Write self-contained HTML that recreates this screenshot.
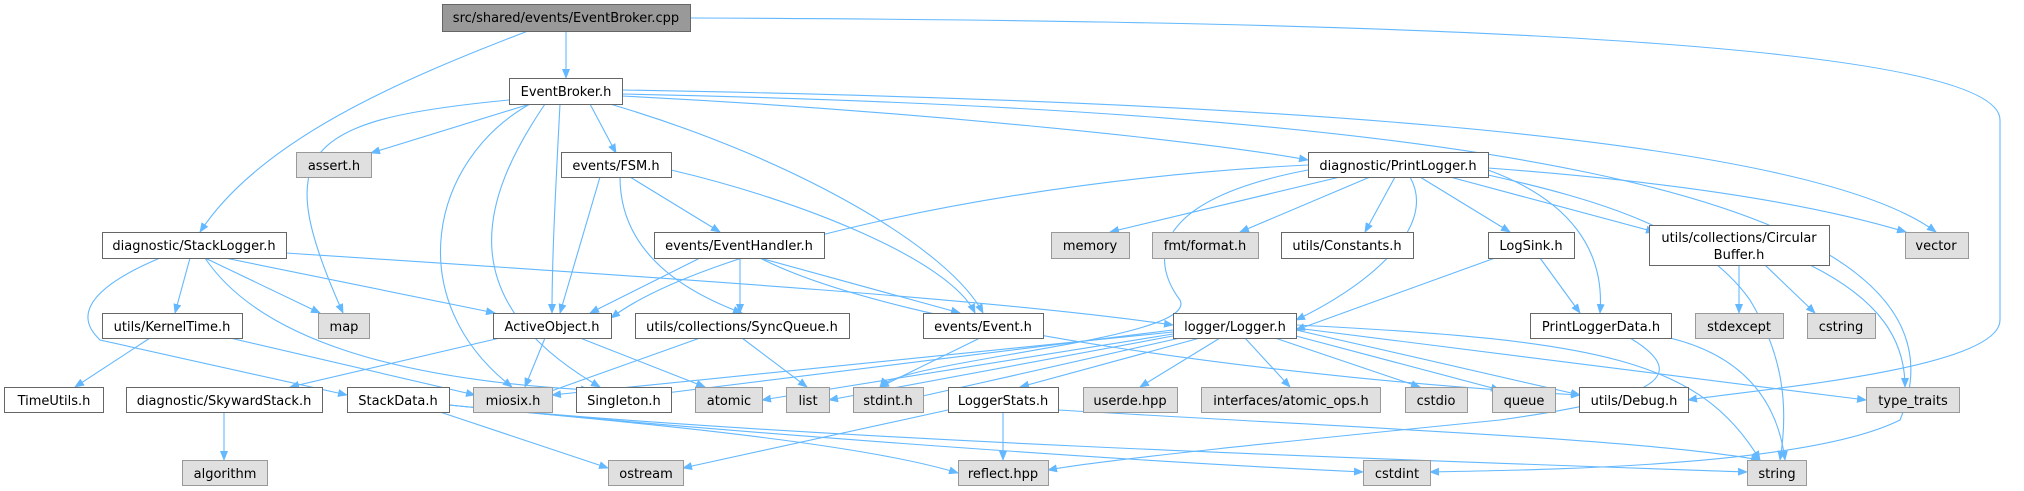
<!DOCTYPE html>
<html><head><meta charset="utf-8"><style>
body{margin:0;background:#fff;}
svg{display:block}
text{font-family:"DejaVu Sans","Liberation Sans",sans-serif;font-size:13px;fill:#000}
</style></head><body>
<svg width="2024" height="491" viewBox="0 0 2024 491" xmlns="http://www.w3.org/2000/svg">
<defs><marker id="a" markerWidth="10" markerHeight="8" refX="9" refY="4" orient="auto" markerUnits="userSpaceOnUse"><path d="M0,0 L10,4 L0,8 z" fill="#63b8ff"/></marker></defs>
<g fill="none" stroke="#63b8ff" stroke-width="1.1" marker-end="url(#a)">
<path d="M566,31 L566,78"/>
<path d="M528,31 C400,80 260,140 200,232"/>
<path d="M690,18 C1200,20 2000,30 2000,120 L2000,320 C2000,370 1750,390 1688,400"/>
<path d="M530,104 L371,153"/>
<path d="M590,104 L616,153"/>
<path d="M622,96 C900,110 1200,140 1308,160"/>
<path d="M560,104 C555,200 552,260 552,313"/>
<path d="M610,104 C800,160 950,250 983,313"/>
<path d="M509,100 C300,120 270,150 343,313"/>
<path d="M530,104 C430,160 400,300 512,387"/>
<path d="M545,104 C480,200 450,300 600,387"/>
<path d="M622,90 C1200,100 1800,130 1936,232"/>
<path d="M622,94 C1400,110 2000,180 1900,420 C1800,470 1500,470 1430,472"/>
<path d="M600,177 L560,313"/>
<path d="M630,177 L720,232"/>
<path d="M620,177 C620,250 680,290 742,313"/>
<path d="M671,170 C800,200 950,260 975,313"/>
<path d="M700,258 L590,313"/>
<path d="M740,258 L740,313"/>
<path d="M760,258 L960,313"/>
<path d="M760,258 C900,330 1300,380 1580,395"/>
<path d="M190,258 L175,313"/>
<path d="M205,258 L320,313"/>
<path d="M225,258 L495,313"/>
<path d="M286,253 C700,280 1000,300 1173,325"/>
<path d="M160,258 C60,300 90,330 100,340 L347,395"/>
<path d="M205,258 C260,340 400,380 590,390"/>
<path d="M150,338 L75,387"/>
<path d="M230,338 L475,395"/>
<path d="M500,338 L290,387"/>
<path d="M545,338 L525,387"/>
<path d="M580,338 L705,387"/>
<path d="M224,412 L224,460"/>
<path d="M440,412 L608,468"/>
<path d="M449,405 C600,420 850,440 958,473"/>
<path d="M449,405 C700,430 1100,460 1363,472"/>
<path d="M449,405 C800,440 1400,460 1747,472"/>
<path d="M700,338 L540,395"/>
<path d="M742,338 L807,387"/>
<path d="M980,338 L880,387"/>
<path d="M1340,177 L1110,232"/>
<path d="M1370,177 L1240,232"/>
<path d="M1395,177 L1365,232"/>
<path d="M1420,177 L1510,232"/>
<path d="M1450,177 L1655,232"/>
<path d="M1488,168 C1650,180 1800,200 1906,232"/>
<path d="M1488,170 C1570,200 1605,250 1600,313"/>
<path d="M1410,177 C1440,230 1360,290 1296,320"/>
<path d="M1308,165 C1000,180 700,250 611,318"/>
<path d="M1488,175 C1600,200 1700,230 1750,300 C1780,350 1790,400 1780,460"/>
<path d="M1308,170 C1150,200 1150,260 1180,300 C1200,340 900,360 880,387"/>
<path d="M1495,258 L1296,330"/>
<path d="M1540,258 L1580,313"/>
<path d="M1739,265 L1739,313"/>
<path d="M1765,265 L1815,313"/>
<path d="M1810,265 C1880,300 1905,340 1905,387"/>
<path d="M1173,332 L552,395"/>
<path d="M1173,330 L650,395"/>
<path d="M1173,334 L762,400"/>
<path d="M1173,336 L829,400"/>
<path d="M1180,338 L905,400"/>
<path d="M1200,338 L1020,387"/>
<path d="M1220,338 L1140,387"/>
<path d="M1245,338 L1290,387"/>
<path d="M1275,338 L1420,387"/>
<path d="M1296,336 L1500,390"/>
<path d="M1296,330 L1580,395"/>
<path d="M1296,328 L1866,400"/>
<path d="M1296,325 C1600,340 1700,360 1760,460"/>
<path d="M948,410 L683,468"/>
<path d="M1003,412 L1003,460"/>
<path d="M1058,410 C1400,430 1650,440 1760,460"/>
<path d="M1630,338 C1700,380 1640,400 1500,420 C1300,440 1100,460 1048,470"/>
<path d="M1670,338 C1760,360 1780,420 1785,460"/>
</g>
<g stroke-width="1">
<rect x="442.5" y="4.5" width="248" height="27" fill="#999" stroke="#666"/>
<text x="566" y="22" text-anchor="middle">src/shared/events/EventBroker.cpp</text>
</g>
<g fill="#fff" stroke="#666" stroke-width="1">
<rect x="509.5" y="78.5" width="113" height="26"/>
<rect x="561.5" y="152.5" width="110" height="25"/>
<rect x="1308.5" y="152.5" width="180" height="25"/>
<rect x="102.5" y="232.5" width="184" height="26"/>
<rect x="654.5" y="232.5" width="170" height="26"/>
<rect x="1281.5" y="232.5" width="132" height="26"/>
<rect x="1488.5" y="232.5" width="86" height="26"/>
<rect x="1649.5" y="225.5" width="180" height="40"/>
<rect x="102.5" y="313.5" width="140" height="25"/>
<rect x="493.5" y="313.5" width="118" height="25"/>
<rect x="635.5" y="313.5" width="214" height="25"/>
<rect x="923.5" y="313.5" width="120" height="25"/>
<rect x="1173.5" y="313.5" width="123" height="25"/>
<rect x="1530.5" y="313.5" width="141" height="25"/>
<rect x="4.5" y="387.5" width="99" height="25"/>
<rect x="126.5" y="387.5" width="196" height="25"/>
<rect x="347.5" y="387.5" width="102" height="25"/>
<rect x="576.5" y="387.5" width="95" height="25"/>
<rect x="948.5" y="387.5" width="110" height="25"/>
<rect x="1579.5" y="387.5" width="109" height="25"/>
</g>
<g fill="#e0e0e0" stroke="#999" stroke-width="1">
<rect x="296.5" y="152.5" width="75" height="25"/>
<rect x="1051.5" y="232.5" width="78" height="26"/>
<rect x="1152.5" y="232.5" width="106" height="26"/>
<rect x="1905.5" y="232.5" width="63" height="26"/>
<rect x="318.5" y="313.5" width="51" height="25"/>
<rect x="1695.5" y="313.5" width="88" height="25"/>
<rect x="1807.5" y="313.5" width="68" height="25"/>
<rect x="473.5" y="387.5" width="79" height="25"/>
<rect x="695.5" y="387.5" width="67" height="25"/>
<rect x="786.5" y="387.5" width="43" height="25"/>
<rect x="853.5" y="387.5" width="70" height="25"/>
<rect x="1083.5" y="387.5" width="94" height="25"/>
<rect x="1201.5" y="387.5" width="179" height="25"/>
<rect x="1405.5" y="387.5" width="62" height="25"/>
<rect x="1492.5" y="387.5" width="63" height="25"/>
<rect x="1866.5" y="387.5" width="93" height="25"/>
<rect x="182.5" y="460.5" width="85" height="25"/>
<rect x="608.5" y="460.5" width="75" height="25"/>
<rect x="958.5" y="460.5" width="90" height="25"/>
<rect x="1363.5" y="460.5" width="67" height="25"/>
<rect x="1747.5" y="460.5" width="59" height="25"/>
</g>
<g text-anchor="middle">
<text x="566" y="96">EventBroker.h</text>
<text x="334" y="170">assert.h</text>
<text x="616" y="170">events/FSM.h</text>
<text x="1398" y="170">diagnostic/PrintLogger.h</text>
<text x="194" y="250">diagnostic/StackLogger.h</text>
<text x="739" y="250">events/EventHandler.h</text>
<text x="1090" y="250">memory</text>
<text x="1205" y="250">fmt/format.h</text>
<text x="1347" y="250">utils/Constants.h</text>
<text x="1531" y="250">LogSink.h</text>
<text x="1739" y="242">utils/collections/Circular</text>
<text x="1739" y="259">Buffer.h</text>
<text x="1936" y="250">vector</text>
<text x="172" y="331">utils/KernelTime.h</text>
<text x="344" y="331">map</text>
<text x="552" y="331">ActiveObject.h</text>
<text x="742" y="331">utils/collections/SyncQueue.h</text>
<text x="983" y="331">events/Event.h</text>
<text x="1235" y="331">logger/Logger.h</text>
<text x="1601" y="331">PrintLoggerData.h</text>
<text x="1739" y="331">stdexcept</text>
<text x="1841" y="331">cstring</text>
<text x="54" y="405">TimeUtils.h</text>
<text x="224" y="405">diagnostic/SkywardStack.h</text>
<text x="398" y="405">StackData.h</text>
<text x="513" y="405">miosix.h</text>
<text x="624" y="405">Singleton.h</text>
<text x="729" y="405">atomic</text>
<text x="808" y="405">list</text>
<text x="888" y="405">stdint.h</text>
<text x="1003" y="405">LoggerStats.h</text>
<text x="1130" y="405">userde.hpp</text>
<text x="1291" y="405">interfaces/atomic_ops.h</text>
<text x="1436" y="405">cstdio</text>
<text x="1524" y="405">queue</text>
<text x="1634" y="405">utils/Debug.h</text>
<text x="1913" y="405">type_traits</text>
<text x="225" y="478">algorithm</text>
<text x="646" y="478">ostream</text>
<text x="1003" y="478">reflect.hpp</text>
<text x="1397" y="478">cstdint</text>
<text x="1777" y="478">string</text>
</g>
</svg>
</body></html>
